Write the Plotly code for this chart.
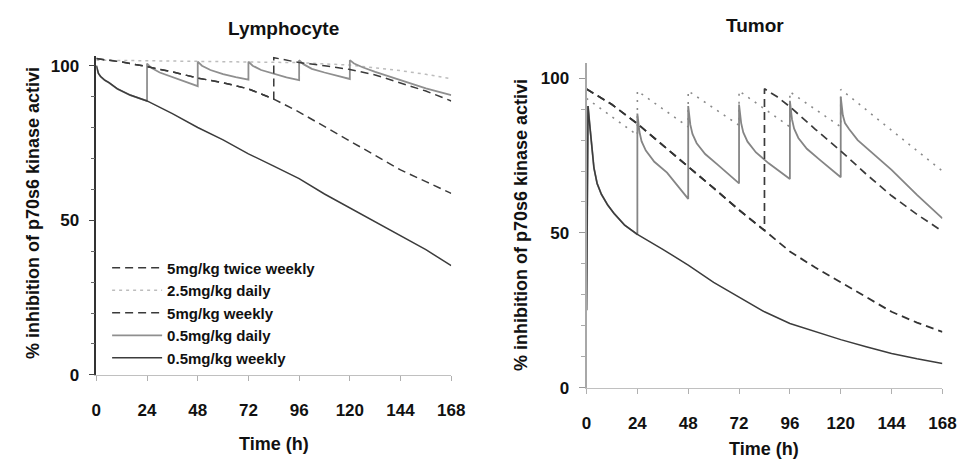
import plotly.graph_objects as go

# ---------------- data ----------------
# Lymphocyte panel
lym_t_05w = [0, 1, 2, 4, 6, 10, 16, 24, 36, 48, 60, 72, 84, 96, 108, 120, 132, 144, 156, 168]
lym_v_05w = [100, 97.5, 96.5, 95.3, 94.5, 92.5, 90.5, 88.6, 84.5, 80, 76, 71.5, 67.5, 63.5, 58.5, 54, 49.5, 45, 40.5, 35.3]

lym_t_05d = [0, 1, 2, 4, 6, 10, 16, 24,
             24, 26, 30, 36, 42, 48,
             48, 50, 54, 60, 66, 72,
             72, 74, 78, 84, 90, 96,
             96, 98, 102, 108, 114, 120,
             120, 122, 126, 132, 144, 156, 168]
lym_v_05d = [100, 97.5, 96.5, 95.3, 94.5, 92.5, 90.5, 88.6,
             100.7, 99.3, 97.8, 96.3, 94.8, 93.4,
             101.3, 100, 98.6, 97.3, 96.3, 95.5,
             101.3, 100, 98.6, 97.3, 96.2, 95.3,
             101.8, 100.5, 99, 97.8, 96.7, 95.7,
             101.8, 100.7, 99.5, 98, 95.3, 92.7, 90.5]

lym_t_5w = [0, 12, 24, 36, 48, 60, 72, 84, 96, 108, 120, 132, 144, 156, 168]
lym_v_5w = [102.3, 101.2, 99.7, 98, 96, 94.5, 92.5, 89.2, 85, 80.3, 75.5, 71, 66.3, 62.5, 58.7]

lym_t_5tw = [0, 12, 24, 36, 48, 60, 72, 84, 84, 96, 108, 120, 132, 144, 156, 168]
lym_v_5tw = [102.3, 101.2, 99.7, 98, 96, 94.5, 92.5, 89.2, 102.6, 101, 100, 98.8, 97, 94.5, 91.8, 88.6]

lym_t_25d = [0, 24, 48, 72, 96, 120, 132, 144, 156, 168]
lym_v_25d = [101.8, 101.6, 101.5, 101.3, 101, 100.2, 99.4, 98.4, 97.2, 95.8]

# Tumor panel
tum_t_05w = [0, 0.7, 1.5, 2.5, 3.5, 5, 7, 10, 13, 18, 24, 36, 48, 60, 72, 84, 96, 108, 120, 132, 144, 156, 168]
tum_v_05w = [25, 91, 85, 77, 71, 66, 62.5, 59, 56.3, 52.5, 49.5, 44.7, 39.6, 34, 29.3, 24.5, 20.7, 18, 15.5, 13.2, 11, 9.3, 7.8]

tum_t_05d = [0, 0.7, 1.5, 2.5, 3.5, 5, 7, 10, 13, 18, 24,
             24, 25, 26, 28, 32, 38, 48,
             48, 49, 50, 52, 56, 62, 72,
             72, 73, 74, 76, 80, 86, 96,
             96, 97, 98, 100, 104, 110, 120,
             120, 121, 122, 124, 128, 134, 144, 156, 168]
tum_v_05d = [25, 91, 85, 77, 71, 66, 62.5, 59, 56.3, 52.5, 49.5,
             88.6, 82.6, 79.6, 76.6, 73, 69.5, 61,
             91, 85, 82, 79, 75.5, 72, 66,
             91.5, 85.5, 82.5, 79.5, 76, 72.5, 67.4,
             92.7, 86.7, 83.7, 80.7, 77.2, 73.7, 68,
             94, 88, 85.5, 83.5, 80, 76.5, 70.4, 62.3, 54.7]

tum_t_5w = [0, 12, 24, 36, 48, 60, 72, 84, 96, 108, 120, 132, 144, 156, 168]
tum_v_5w = [96.5, 91.5, 85.3, 78.5, 71.4, 64.5, 57.4, 50.8, 44, 38.8, 34, 29.3, 24.5, 21, 18]

tum_t_5tw = [0, 12, 24, 36, 48, 60, 72, 84, 84, 90, 96, 108, 120, 132, 144, 156, 168]
tum_v_5tw = [96.5, 91.5, 85.3, 78.5, 71.4, 64.5, 57.4, 50.8, 96.6, 94, 90.8, 83.5, 76.5, 69, 62, 56, 50.5]

tum_t_25d = [0, 24, 24, 48, 48, 72, 72, 96, 96, 120, 120, 144, 168]
tum_v_25d = [93.5, 81.6, 95.9, 84.3, 95.9, 84.8, 95.9, 84.3, 95.6, 84.3, 96.4, 83.3, 70]

x_ticks = [0, 24, 48, 72, 96, 120, 144, 168]
y_ticks = [0, 50, 100]
series_names = ["5mg/kg twice weekly", "2.5mg/kg daily", "5mg/kg weekly", "0.5mg/kg daily", "0.5mg/kg weekly"]

# ---------------- styles ----------------
FONT = "Liberation Sans, Arial, sans-serif"
lym_styles = {
    "5mg/kg twice weekly": dict(color="#3a3a3a", width=1.5, dash="8px,5px"),
    "2.5mg/kg daily": dict(color="#bdbdbd", width=1.5, dash="3px,4px"),
    "5mg/kg weekly": dict(color="#3a3a3a", width=1.5, dash="8px,5px"),
    "0.5mg/kg daily": dict(color="#8f8f8f", width=1.8),
    "0.5mg/kg weekly": dict(color="#3c3c3c", width=1.5),
}
tum_styles = {
    "5mg/kg twice weekly": dict(color="#3a3a3a", width=1.7, dash="8px,5px"),
    "2.5mg/kg daily": dict(color="#8a8a8a", width=1.6, dash="2px,6px"),
    "5mg/kg weekly": dict(color="#333333", width=1.8, dash="8px,5px"),
    "0.5mg/kg daily": dict(color="#858585", width=1.8),
    "0.5mg/kg weekly": dict(color="#3c3c3c", width=1.5),
}
rank = {n: i for i, n in enumerate(series_names)}

fig = go.Figure()

lym = {
    "2.5mg/kg daily": (lym_t_25d, lym_v_25d),
    "0.5mg/kg daily": (lym_t_05d, lym_v_05d),
    "5mg/kg twice weekly": (lym_t_5tw, lym_v_5tw),
    "5mg/kg weekly": (lym_t_5w, lym_v_5w),
    "0.5mg/kg weekly": (lym_t_05w, lym_v_05w),
}
tum = {
    "2.5mg/kg daily": (tum_t_25d, tum_v_25d),
    "0.5mg/kg daily": (tum_t_05d, tum_v_05d),
    "5mg/kg twice weekly": (tum_t_5tw, tum_v_5tw),
    "5mg/kg weekly": (tum_t_5w, tum_v_5w),
    "0.5mg/kg weekly": (tum_t_05w, tum_v_05w),
}

for name, (t, v) in lym.items():
    fig.add_trace(go.Scatter(x=t, y=v, mode="lines", name=name, line=lym_styles[name],
                             legendrank=rank[name] + 1, xaxis="x", yaxis="y"))
for name, (t, v) in tum.items():
    fig.add_trace(go.Scatter(x=t, y=v, mode="lines", name=name, line=tum_styles[name],
                             showlegend=False, xaxis="x2", yaxis="y2"))

W, H = 969, 460

def px_x(p):
    return p / W

def px_y(p):
    return 1 - p / H

tickfont = dict(family=FONT, size=17, color="#111", weight="bold")

common_x = dict(range=[0, 168], tickvals=x_ticks, ticks="outside", ticklen=5,
                tickcolor="#b0b0b0", showline=True, linecolor="#c0c0c0", linewidth=1,
                showgrid=False, zeroline=False, tickfont=tickfont, ticklabelstandoff=15)

fig.update_layout(
    width=W, height=H,
    margin=dict(l=0, r=0, t=0, b=0),
    paper_bgcolor="white", plot_bgcolor="white",
    showlegend=True,
    legend=dict(x=px_x(96), y=px_y(249), xanchor="left", yanchor="top",
                bgcolor="rgba(0,0,0,0)", font=dict(family=FONT, size=15, color="#111", weight="bold"),
                itemwidth=50, traceorder="normal", tracegroupgap=0),
    xaxis=dict(domain=[px_x(85), px_x(447)], anchor="y", **common_x),
    yaxis=dict(domain=[px_y(375), px_y(49.5)], anchor="x", range=[0, 103], tickvals=y_ticks,
               ticks="outside", ticklen=6, tickcolor="#444", showline=True, linecolor="#333",
               linewidth=1.5, showgrid=False, zeroline=False, tickfont=tickfont,
               ticklabelstandoff=6,
               minor=dict(dtick=10, ticks="outside", ticklen=4, tickcolor="#666")),
    xaxis2=dict(domain=[px_x(585), px_x(948)], anchor="y2", **common_x),
    yaxis2=dict(domain=[px_y(388), px_y(56)], anchor="x2", range=[0, 105], tickvals=y_ticks,
                ticks="outside", ticklen=6, tickcolor="#999", showline=True, linecolor="#a8a8a8",
                linewidth=2, showgrid=False, zeroline=False, tickfont=tickfont,
                ticklabelstandoff=6,
                minor=dict(dtick=10, ticks="outside", ticklen=4, tickcolor="#aaa")),
)

title_font = dict(family=FONT, size=19, color="#111", weight="bold")
axis_font = dict(family=FONT, size=18, color="#111", weight="bold")
ann = [
    dict(text="Lymphocyte", x=px_x(276), y=px_y(21), font=title_font),
    dict(text="Tumor", x=px_x(757), y=px_y(18), font=title_font),
    dict(text="Time (h)", x=px_x(266), y=px_y(446), font=axis_font),
    dict(text="Time (h)", x=px_x(766), y=px_y(451), font=axis_font),
    dict(text="% inhibition of p70s6 kinase activi", x=px_x(21), y=px_y(210), font=axis_font, textangle=-90),
    dict(text="% inhibition of p70s6 kinase activi", x=px_x(518), y=px_y(222), font=axis_font, textangle=-90),
]
for a in ann:
    fig.add_annotation(xref="paper", yref="paper", showarrow=False, xanchor="center", yanchor="middle", **a)

fig.write_html("out.html")
